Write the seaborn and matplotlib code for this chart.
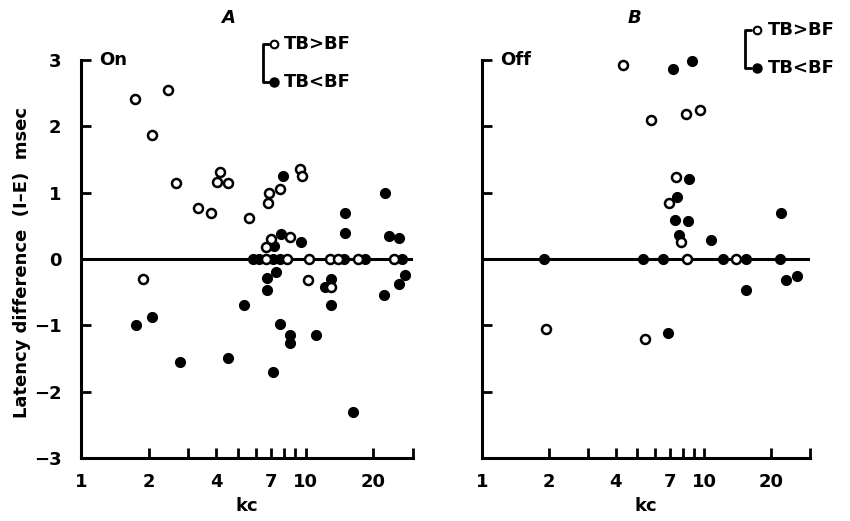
import numpy as np
import pandas as pd
import matplotlib
matplotlib.use("Agg")
import matplotlib.pyplot as plt
from matplotlib.ticker import FixedLocator, FixedFormatter, NullLocator
import seaborn as sns

# ---------------- data ----------------
# Panel A (On): open = TB>BF, filled = TB<BF
a_open_kc = [1.73, 2.45, 2.07, 2.66, 4.17, 4.03, 4.52, 3.31, 3.78, 5.58, 1.88,
             9.43, 9.6, 6.86, 7.65, 6.77, 8.48, 7.03, 6.65, 10.2, 13.0,
             6.68, 8.28, 10.3, 12.8, 13.9, 17.0, 24.8]
a_open_diff = [2.41, 2.55, 1.87, 1.14, 1.31, 1.16, 1.15, 0.77, 0.70, 0.62, -0.30,
               1.36, 1.25, 1.00, 1.05, 0.85, 0.33, 0.30, 0.18, -0.31, -0.42,
               0, 0, 0, 0, 0, 0, 0]
a_fill_kc = [7.92, 22.6, 15.0, 15.0, 7.79, 9.5, 7.2, 23.5, 25.9,
             5.84, 6.19, 7.17, 7.68, 14.8, 18.4, 26.8,
             6.75, 7.35, 6.75, 13.0, 12.2, 13.0, 5.3, 7.65, 8.48, 8.5, 11.1,
             4.52, 7.12, 16.3, 22.2, 25.9, 27.5, 1.75, 2.08, 2.77]
a_fill_diff = [1.25, 1.00, 0.70, 0.39, 0.37, 0.26, 0.20, 0.35, 0.32,
               0, 0, 0, 0, 0, 0, 0,
               -0.29, -0.19, -0.46, -0.30, -0.42, -0.70, -0.70, -0.98, -1.15, -1.26, -1.15,
               -1.49, -1.70, -2.31, -0.55, -0.37, -0.24, -0.99, -0.87, -1.56]

# Panel B (Off)
b_open_kc = [4.32, 5.78, 8.31, 9.6, 7.47, 6.95, 7.85, 1.94, 5.4, 8.4, 13.9]
b_open_diff = [2.93, 2.09, 2.19, 2.24, 1.23, 0.84, 0.26, -1.06, -1.21, 0, 0]
b_fill_kc = [7.27, 8.78, 8.55, 7.54, 7.4, 8.45, 7.7, 10.7, 22.1, 15.4, 23.4, 26.3, 6.86,
             1.91, 5.29, 6.5, 12.2, 15.4, 21.9]
b_fill_diff = [2.86, 2.99, 1.20, 0.94, 0.59, 0.58, 0.36, 0.29, 0.69, -0.47, -0.32, -0.25, -1.11,
               0, 0, 0, 0, 0, 0]

x_ticks = [1, 2, 3, 4, 5, 6, 7, 8, 9, 10, 20, 30]
x_labels = ["1", "2", "", "4", "", "", "7", "", "", "10", "20", ""]
y_ticks = [-3, -2, -1, 0, 1, 2, 3]
y_labels = ["\u22123", "\u22122", "\u22121", "0", "1", "2", "3"]

# ---------------- style ----------------
sns.set_style("ticks")
plt.rcParams["font.family"] = ["DejaVu Sans"]
plt.rcParams["font.weight"] = "bold"
for k in ["text.color", "axes.labelcolor", "xtick.color", "ytick.color",
          "axes.edgecolor"]:
    plt.rcParams[k] = "black"

fig = plt.figure(figsize=(8.5, 5.21), dpi=100)
axA = fig.add_axes([81 / 850, 63 / 521, 332 / 850, 398 / 521])
axB = fig.add_axes([482 / 850, 63 / 521, 328 / 850, 398 / 521])

FS = 13


def panel(ax, okc, odiff, fkc, fdiff, show_ylabels, corner):
    ax.axhline(0, color="black", lw=2.2, zorder=1)
    dff = pd.DataFrame({"kc": fkc, "diff": fdiff})
    dfo = pd.DataFrame({"kc": okc, "diff": odiff})
    sns.scatterplot(data=dff, x="kc", y="diff", ax=ax, color="black",
                    edgecolor="black", linewidth=0.8, s=52, zorder=3,
                    clip_on=False, legend=False)
    sns.scatterplot(data=dfo, x="kc", y="diff", ax=ax, color="white",
                    edgecolor="black", linewidth=1.8, s=42, zorder=4,
                    clip_on=False, legend=False)
    ax.set_xscale("log")
    ax.set_xlim(1, 30)
    ax.set_ylim(-3, 3)
    ax.xaxis.set_major_locator(FixedLocator(x_ticks))
    ax.xaxis.set_major_formatter(FixedFormatter(x_labels))
    ax.xaxis.set_minor_locator(NullLocator())
    ax.yaxis.set_major_locator(FixedLocator(y_ticks))
    if show_ylabels:
        ax.yaxis.set_major_formatter(FixedFormatter(y_labels))
    else:
        ax.yaxis.set_major_formatter(FixedFormatter([""] * 7))
    ax.tick_params(axis="x", direction="in", length=7, width=2.0, pad=11,
                   labelsize=FS, colors="black")
    ax.tick_params(axis="y", direction="in", length=7, width=2.0, pad=14,
                   labelsize=FS, colors="black")
    for lab in ax.get_xticklabels() + ax.get_yticklabels():
        lab.set_fontweight("bold")
    for s in ["top", "right"]:
        ax.spines[s].set_visible(False)
    for s in ["left", "bottom"]:
        ax.spines[s].set_linewidth(2.2)
        ax.spines[s].set_color("black")
    ax.set_xlabel("kc", fontsize=FS, fontweight="bold", labelpad=4,
                  color="black")
    ax.set_ylabel("")
    ax.text(0.055, 1.0, corner, transform=ax.transAxes, fontsize=FS,
            fontweight="bold", va="center", ha="left", color="black")


panel(axA, a_open_kc, a_open_diff, a_fill_kc, a_fill_diff, True, "On")
panel(axB, b_open_kc, b_open_diff, b_fill_kc, b_fill_diff, False, "Off")


def key(ax, xb, ytop, ybot, xc, xt):
    tr = ax.transAxes
    ax.plot([xb + 0.018, xb, xb, xb + 0.018], [ytop, ytop, ybot, ybot],
            transform=tr, color="black", lw=2.0, clip_on=False)
    ax.plot([xc], [ytop], "o", transform=tr, mfc="white", mec="black",
            mew=1.5, ms=5.5, clip_on=False)
    ax.plot([xc], [ybot], "o", transform=tr, mfc="black", mec="black",
            ms=6.5, clip_on=False)
    ax.text(xt, ytop, "TB>BF", transform=tr, fontsize=FS, fontweight="bold",
            va="center", ha="left", color="black")
    ax.text(xt, ybot, "TB<BF", transform=tr, fontsize=FS, fontweight="bold",
            va="center", ha="left", color="black")


key(axA, 0.548, 1.040, 0.945, 0.580, 0.612)
key(axB, 0.802, 1.075, 0.980, 0.838, 0.872)

fig.text(228 / 850, 1 - 18 / 521, "A", fontsize=FS, fontweight="bold",
         fontstyle="italic", ha="center", va="center", color="black")
fig.text(634 / 850, 1 - 18 / 521, "B", fontsize=FS, fontweight="bold",
         fontstyle="italic", ha="center", va="center", color="black")
fig.text(22 / 850, 1 - 262 / 521, "Latency difference  (I\u2013E)  msec",
         fontsize=FS, fontweight="bold", rotation=90, ha="center", va="center",
         color="black")

fig.savefig("out.png", dpi=100)
